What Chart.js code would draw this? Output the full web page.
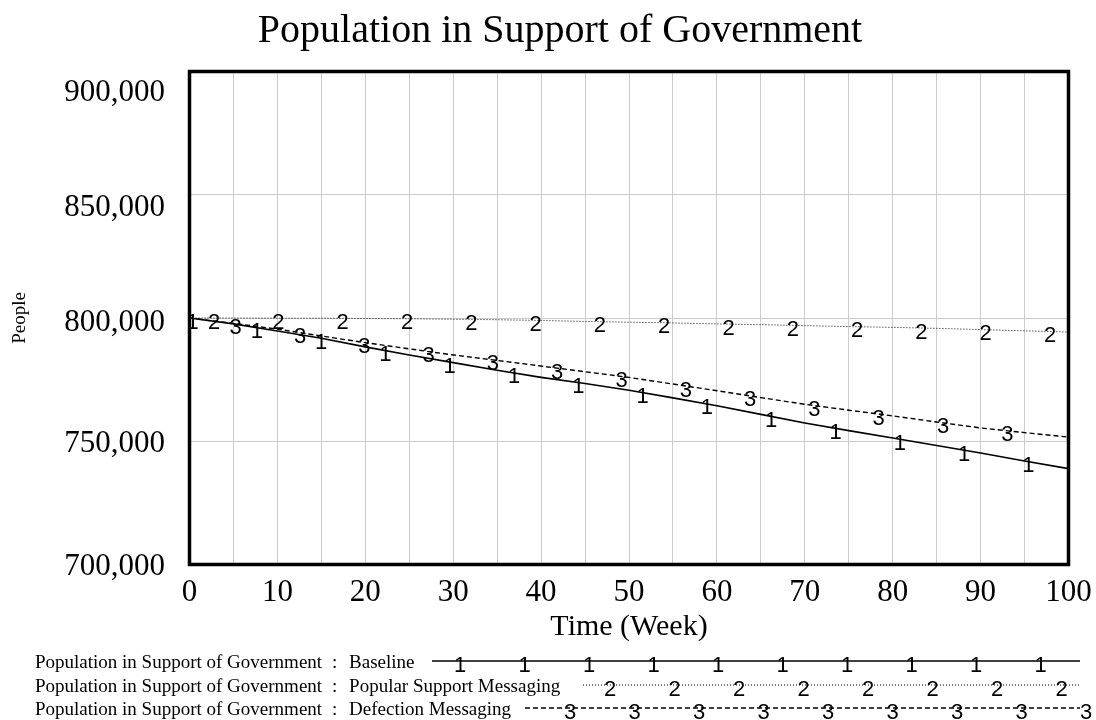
<!DOCTYPE html>
<html>
<head>
<meta charset="utf-8">
<script src="https://cdn.jsdelivr.net/npm/chart.js@4.4.0/dist/chart.umd.min.js"></script>
<style>
  html, body { margin: 0; padding: 0; background: #fff; }
</style>
</head>
<body>
<canvas id="myChart" width="1096" height="720"></canvas>
<script>
// time axis (weeks) and the three runs
const weeks = [0, 5, 10, 15, 20, 25, 30, 35, 40, 45, 50, 55, 60, 65, 70, 75, 80, 85, 90, 95, 100];
const baseline = [800000, 797600, 794700, 791800, 788300, 785000, 781900, 778800, 775900, 773400, 770700,
                  767600, 764400, 760900, 757400, 754300, 751300, 748300, 745200, 742000, 738900];
const popularSupport = [800000, 800000, 799900, 799900, 799800, 799700, 799500, 799300, 799000, 798600, 798300,
                        798000, 797600, 797300, 796900, 796500, 796200, 795800, 795300, 794800, 794300];
const defectionMessaging = [800000, 797800, 795500, 792700, 790000, 787500, 785000, 782800, 780500, 778200, 775900,
                            773200, 770500, 767700, 765000, 762600, 760300, 757800, 755400, 753500, 751700];

const xTickLabels = [0, 10, 20, 30, 40, 50, 60, 70, 80, 90, 100];
const yTickLabels = [900000, 850000, 800000, 750000, 700000];
const runNames = [
  'Population in Support of Government : Baseline',
  'Population in Support of Government : Popular Support Messaging',
  'Population in Support of Government : Defection Messaging'
];
const runDigits = ['1', '2', '3'];

const SERIF = '"Liberation Serif", "Times New Roman", serif';
const SANS = '"Liberation Sans", Arial, sans-serif';

function toPoints(values) {
  return weeks.map((w, i) => ({ x: w, y: values[i] }));
}

const dashes = [[], [1, 2], [5, 3]];
const widths = [1.6, 1, 1.4];

// Vensim style: digits along the runs, heavy frame, hand placed labels, legend strip
const vensimLook = {
  id: 'vensimLook',
  afterDatasetsDraw(chart) {
    const ctx = chart.ctx;
    const a = chart.chartArea;
    ctx.save();
    ctx.font = '22px ' + SANS;
    ctx.fillStyle = '#000';
    ctx.textAlign = 'center';
    ctx.textBaseline = 'alphabetic';
    chart.data.datasets.forEach((ds, i) => {
      const p = chart.getDatasetMeta(i).data;
      for (let px = a.left + 3 + i * 21.6; px <= a.right; px += 64.3) {
        let k = 0;
        while (k < p.length - 2 && p[k + 1].x < px) k++;
        const f = (px - p[k].x) / (p[k + 1].x - p[k].x);
        const py = p[k].y + f * (p[k + 1].y - p[k].y);
        ctx.fillText(runDigits[i], px, py + 10.5);
      }
    });
    ctx.strokeStyle = '#000';
    ctx.lineWidth = 3.5;
    ctx.strokeRect(a.left, a.top, a.right - a.left, a.bottom - a.top);
    ctx.restore();
  },
  afterDraw(chart) {
    const ctx = chart.ctx;
    const a = chart.chartArea;
    const xs = chart.scales.x, ys = chart.scales.y;
    ctx.save();
    ctx.fillStyle = '#000';
    ctx.textBaseline = 'alphabetic';

    // title
    ctx.font = '40px ' + SERIF;
    ctx.textAlign = 'center';
    ctx.fillText('Population in Support of Government', 560, 42);

    // y tick labels (top one pushed inside, keep them apart)
    ctx.font = '31px ' + SERIF;
    ctx.textAlign = 'right';
    let prev = -1e9;
    yTickLabels.forEach(v => {
      let cy = Math.max(ys.getPixelForValue(v), a.top + 18.5);
      if (cy - prev < 115) cy = prev + 115;
      prev = cy;
      ctx.fillText(v.toLocaleString('en-US'), 165, cy + 10.5);
    });

    // x tick labels
    ctx.textAlign = 'center';
    xTickLabels.forEach(v => {
      ctx.fillText(String(v), xs.getPixelForValue(v), a.bottom + 36);
    });
    ctx.font = '30px ' + SERIF;
    ctx.fillText('Time (Week)', (a.left + a.right) / 2, a.bottom + 70.5);

    // y axis title
    ctx.save();
    ctx.font = '19px ' + SERIF;
    ctx.translate(20, (a.top + a.bottom) / 2);
    ctx.rotate(-Math.PI / 2);
    ctx.textBaseline = 'middle';
    ctx.fillText('People', 0, 0);
    ctx.restore();

    // legend strip
    const rowBase = [668, 692, 715];
    const lineStart = [432, 583, 525];
    const firstMark = [28, 27, 45];
    runNames.forEach((name, i) => {
      const parts = name.split(' : ');
      ctx.font = '19px ' + SERIF;
      ctx.textAlign = 'left';
      ctx.fillText(parts[0], 35, rowBase[i]);
      const pEnd = 35 + ctx.measureText(parts[0]).width;
      ctx.fillText(':', pEnd + 10, rowBase[i]);
      ctx.fillText(parts[1], pEnd + 27, rowBase[i]);
      const ly = rowBase[i] - 7;
      ctx.save();
      ctx.strokeStyle = '#000';
      ctx.lineWidth = widths[i];
      ctx.setLineDash(dashes[i]);
      ctx.beginPath();
      ctx.moveTo(lineStart[i], ly);
      ctx.lineTo(1080, ly);
      ctx.stroke();
      ctx.restore();
      ctx.font = '22px ' + SANS;
      ctx.textAlign = 'center';
      for (let mx = lineStart[i] + firstMark[i]; mx <= 1086; mx += 64.5) {
        ctx.fillText(runDigits[i], mx, ly + 10.5);
      }
    });
    ctx.restore();
  }
};

const ctx = document.getElementById('myChart').getContext('2d');
new Chart(ctx, {
  type: 'line',
  data: {
    datasets: [
      { label: runNames[0], data: toPoints(baseline), borderColor: '#000', borderWidth: widths[0], borderDash: dashes[0] },
      { label: runNames[1], data: toPoints(popularSupport), borderColor: '#000', borderWidth: widths[1], borderDash: dashes[1] },
      { label: runNames[2], data: toPoints(defectionMessaging), borderColor: '#000', borderWidth: widths[2], borderDash: dashes[2] }
    ]
  },
  options: {
    responsive: false,
    animation: false,
    layout: { padding: { left: 189.5, top: 71.5, right: 27.5, bottom: 155.5 } },
    elements: { point: { radius: 0 }, line: { tension: 0, fill: false } },
    plugins: {
      legend: { display: false },
      title: { display: false },
      tooltip: { enabled: false }
    },
    scales: {
      x: {
        type: 'linear',
        min: 0,
        max: 100,
        ticks: { display: false, stepSize: 5 },
        grid: { color: '#cccccc', lineWidth: 1, drawTicks: false },
        border: { display: false }
      },
      y: {
        type: 'linear',
        min: 700000,
        max: 900000,
        ticks: { display: false, stepSize: 50000 },
        grid: { color: '#cccccc', lineWidth: 1, drawTicks: false },
        border: { display: false }
      }
    }
  },
  plugins: [vensimLook]
});
</script>
</body>
</html>
